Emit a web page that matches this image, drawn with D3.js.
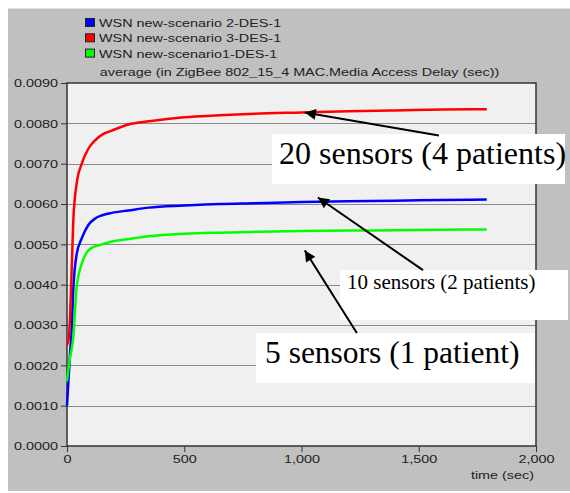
<!doctype html>
<html lang="en">
<head>
<meta charset="utf-8">
<title>Media Access Delay</title>
<style>
  html, body { margin: 0; padding: 0; background: #ffffff; }
  svg { display: block; }
  .tick text, .lbl { font-family: "Liberation Sans", Arial, sans-serif; font-size: 11.5px; fill: #222; }
  .note { font-family: "Liberation Serif", "Times New Roman", serif; fill: #000; }
</style>
</head>
<body>
<svg width="570" height="493"></svg>
<script src="https://d3js.org/d3.v7.min.js"></script>
<script>
// time axis (sec) and series values (delay in ms, scaled to sec below)
var times = [0, 8, 13, 20, 27, 41, 63, 91, 120, 150, 191, 262, 350, 500, 650, 800, 1000, 1200, 1400, 1600, 1790];
var scenario2 = [1.0, 1.8, 2.3, 2.9, 3.9, 4.75, 5.15, 5.48, 5.64, 5.72, 5.78, 5.84, 5.91, 5.96, 6.0, 6.02, 6.05, 6.07, 6.08, 6.1, 6.11];
var scenario3 = [2.5, 2.7, 3.2, 4.4, 5.6, 6.5, 7.0, 7.37, 7.58, 7.72, 7.82, 7.97, 8.05, 8.15, 8.2, 8.24, 8.27, 8.3, 8.32, 8.34, 8.35];
var scenario1 = [1.6, 2.0, 2.2, 2.4, 2.7, 3.94, 4.52, 4.85, 4.95, 5.0, 5.07, 5.13, 5.2, 5.26, 5.29, 5.31, 5.33, 5.34, 5.35, 5.36, 5.37];

var seriesNames = ["WSN new-scenario 2-DES-1", "WSN new-scenario 3-DES-1", "WSN new-scenario1-DES-1"];
var seriesColors = ["#0000ff", "#ff0000", "#00ff00"];
var seriesValues = [scenario2, scenario3, scenario1];

var xTicks = [0, 500, 1000, 1500, 2000];
var yTicks = [0, 0.001, 0.002, 0.003, 0.004, 0.005, 0.006, 0.007, 0.008, 0.009];

// annotations: arrow tip and tail in data units (time, value)
var notes = [
  { text: "20 sensors (4 patients)", size: 32, box: [272, 134, 293, 50], tx: 279, ty: 164, tail: [1586, 0.00770], tip: [1014, 0.00827] },
  { text: "10 sensors (2 patients)", size: 21, box: [340, 270, 228, 50], tx: 347, ty: 289, tail: [1518, 0.00436], tip: [1070, 0.00616] },
  { text: "5 sensors (1 patient)", size: 31.5, box: [256, 333, 279, 50], tx: 265, ty: 363, tail: [1236, 0.00280], tip: [1014, 0.00485] }
];

var svg = d3.select("svg");
var pL = 67, pR = 536, pT = 83, pB = 446;

var x = d3.scaleLinear().domain([0, 2000]).range([pL, pR]);
var y = d3.scaleLinear().domain([0, 0.009]).range([pB, pT]);

// the source picture has its sans text stretched sideways
function stretch(sel, k) {
  sel.each(function() {
    var w = this.getComputedTextLength();
    d3.select(this).attr("textLength", w * k).attr("lengthAdjust", "spacingAndGlyphs");
  });
}

// gray panel
svg.append("rect").attr("x", 8).attr("y", 8).attr("width", 562).attr("height", 483).attr("fill", "#c0c0c0");
svg.append("line").attr("x1", 8).attr("x2", 570).attr("y1", 8.5).attr("y2", 8.5).attr("stroke", "#e0e0e0");

// plot background
svg.append("rect").attr("x", pL).attr("y", pT).attr("width", pR - pL).attr("height", pB - pT).attr("fill", "#f0f0f0");

// gridlines
svg.append("g").selectAll("line")
  .data(yTicks.slice(1, -1))
  .enter().append("line")
  .attr("x1", pL).attr("x2", pR)
  .attr("y1", function(d) { return Math.round(y(d)) + 0.5; })
  .attr("y2", function(d) { return Math.round(y(d)) + 0.5; })
  .attr("stroke", "#8a8a8a").attr("stroke-width", 1);

// axes
svg.append("g")
  .attr("transform", "translate(" + pL + ",0)")
  .call(d3.axisLeft(y).tickValues(yTicks).tickFormat(d3.format(".4f")).tickSize(6).tickPadding(3));
svg.append("g")
  .attr("transform", "translate(0," + pB + ")")
  .call(d3.axisBottom(x).tickValues(xTicks).tickFormat(d3.format(",")).tickSize(6).tickPadding(3));
svg.selectAll(".domain").remove();
svg.selectAll(".tick line").attr("stroke", "#333");
svg.selectAll(".tick text").call(stretch, 1.25);

// frame
svg.append("rect").attr("x", pL).attr("y", pT).attr("width", pR - pL).attr("height", pB - pT)
  .attr("fill", "none").attr("stroke", "#333").attr("stroke-width", 1.5);

// lines
var line = d3.line()
  .curve(d3.curveMonotoneX)
  .x(function(d) { return x(d[0]); })
  .y(function(d) { return y(d[1] / 1000); });

svg.append("g").selectAll("path")
  .data(seriesValues)
  .enter().append("path")
  .attr("fill", "none")
  .attr("stroke", function(d, i) { return seriesColors[i]; })
  .attr("stroke-width", 2.5)
  .attr("stroke-linejoin", "round")
  .attr("d", function(vals) {
    return line(vals.map(function(v, j) { return [times[j], v]; }));
  });

// legend
var legend = svg.append("g").selectAll("g")
  .data(seriesNames)
  .enter().append("g")
  .attr("transform", function(d, i) { return "translate(85," + (18 + i * 15.3) + ")"; });
legend.append("rect").attr("x", 0.5).attr("y", 0.5).attr("width", 9).attr("height", 8)
  .attr("fill", function(d, i) { return seriesColors[i]; })
  .attr("stroke", "#222");
legend.append("text").attr("class", "lbl").attr("x", 14).attr("y", 9)
  .text(function(d) { return d; })
  .call(stretch, 1.25);

// title and x label
svg.append("text").attr("class", "lbl").attr("x", (pL + pR) / 2 - 2).attr("y", 76)
  .attr("text-anchor", "middle")
  .text("average (in ZigBee 802_15_4 MAC.Media Access Delay (sec))")
  .call(stretch, 1.25);
svg.append("text").attr("class", "lbl").attr("x", 534).attr("y", 479)
  .attr("text-anchor", "end").text("time (sec)")
  .call(stretch, 1.25);

// annotations
svg.append("defs").append("marker")
  .attr("id", "arrow").attr("viewBox", "0 0 10 10")
  .attr("refX", 10).attr("refY", 5)
  .attr("markerWidth", 7).attr("markerHeight", 5.5)
  .attr("markerUnits", "strokeWidth")
  .attr("orient", "auto")
  .append("path").attr("d", "M0,0L10,5L0,10Z").attr("fill", "#000");

var note = svg.append("g").selectAll("g").data(notes).enter().append("g");
note.append("rect")
  .attr("x", function(d) { return d.box[0]; })
  .attr("y", function(d) { return d.box[1]; })
  .attr("width", function(d) { return d.box[2]; })
  .attr("height", function(d) { return d.box[3]; })
  .attr("fill", "#ffffff");
note.append("text").attr("class", "note")
  .attr("x", function(d) { return d.tx; })
  .attr("y", function(d) { return d.ty; })
  .style("font-size", function(d) { return d.size + "px"; })
  .text(function(d) { return d.text; });
note.append("line")
  .attr("x1", function(d) { return x(d.tail[0]); })
  .attr("y1", function(d) { return y(d.tail[1]); })
  .attr("x2", function(d) { return x(d.tip[0]); })
  .attr("y2", function(d) { return y(d.tip[1]); })
  .attr("stroke", "#000").attr("stroke-width", 2)
  .attr("marker-end", "url(#arrow)");
</script>
</body>
</html>
